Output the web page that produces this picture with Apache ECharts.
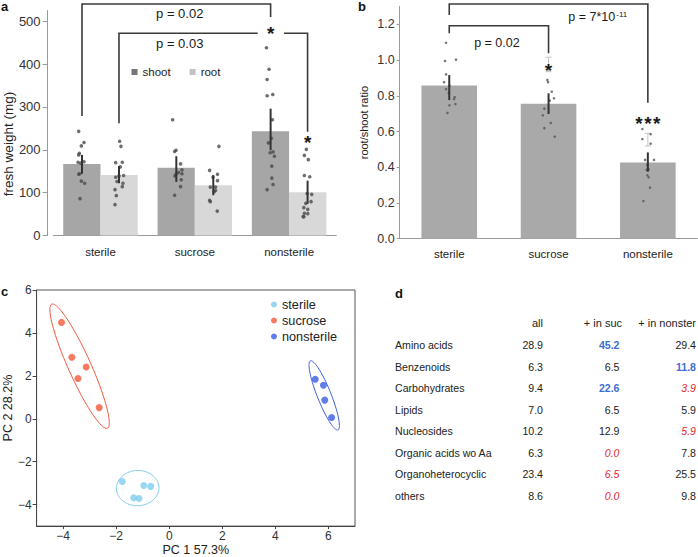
<!DOCTYPE html>
<html><head><meta charset="utf-8">
<script src="https://cdn.jsdelivr.net/npm/echarts@6/dist/echarts.min.js"></script>
<style>html,body{margin:0;padding:0;background:#fff}#c{width:698px;height:557px}</style>
</head><body><div id="c"></div>
<script>
// ================= DATA =================
const categories = ['sterile', 'sucrose', 'nonsterile'];

// panel a: fresh weight (mg)
const shootMean = [167, 158, 243];
const rootMean = [141, 117, 101];
const shootErrLow = [144, 125, 199];
const shootErrHigh = [188, 185, 296];
const rootErrLow = [122, 94, 74];
const rootErrHigh = [162, 141, 128];
const shootDots = [
  [243, 217, 209, 192, 188, 171, 172, 169, 144, 143, 127, 122, 86],
  [270, 199, 196, 167, 153, 147, 144, 143, 139, 130, 114, 94],
  [438, 388, 364, 329, 326, 270, 227, 216, 195, 193, 185, 162, 134, 119, 107]
];
const shootJitter = [
  [-0.035, 0.021, -0.007, -0.028, -0.035, -0.042, 0.021, -0.014, -0.024, -0.035, -0.007, 0.028, -0.021],
  [-0.039, -0.003, -0.018, 0.045, 0.06, 0.024, 0.06, -0.003, -0.014, 0.052, 0.045, -0.018],
  [-0.044, -0.016, -0.037, 0.023, -0.037, 0.019, 0.008, -0.023, 0.026, -0.005, 0.04, 0.013, 0.013, 0.026, -0.037]
];
const rootDots = [
  [220, 208, 171, 170, 160, 140, 139, 136, 126, 122, 114, 107, 93, 72],
  [208, 152, 143, 136, 128, 113, 113, 105, 102, 82, 79, 57],
  [201, 187, 177, 140, 137, 98, 96, 79, 75, 65, 61, 52, 51, 44, 44]
];
const rootJitter = [
  [0.007, 0.021, 0.035, -0.035, 0.014, 0.049, 0, -0.035, -0.021, 0.042, 0.035, -0.042, -0.028, -0.042],
  [0.06, -0.039, 0.045, -0.003, 0.045, 0.024, -0.031, 0.024, 0.01, -0.039, -0.031, 0.042],
  [-0.013, -0.034, 0.008, -0.034, 0.023, -0.005, 0.044, 0.037, -0.019, -0.04, 0.002, -0.034, 0.002, -0.04, -0.047]
];
const weightTicks = [0, 100, 200, 300, 400, 500];

// panel b: root/shoot ratio
const ratioMean = [0.858, 0.756, 0.427];
const ratioErrLow = [0.776, 0.698, 0.375];
const ratioErrHigh = [0.916, 0.814, 0.483];
const ratioGhostLow = [null, 0.935, 0.519];
const ratioGhostHigh = [null, 1.016, 0.590];
const ratioDots = [
  [1.097, 0.995, 1.002, 0.920, 0.876, 0.857, 0.837, 0.816, 0.792, 0.782, 0.754, 0.747, 0.704],
  [0.889, 0.876, 0.823, 0.786, 0.773, 0.728, 0.691, 0.648, 0.619, 0.571],
  [0.614, 0.585, 0.558, 0.532, 0.441, 0.441, 0.413, 0.388, 0.385, 0.355, 0.344, 0.286, 0.211]
];
const ratioJitter = [
  [-0.032, -0.042, 0.068, -0.032, -0.052, 0.002, -0.032, -0.005, 0.055, 0.048, 0.062, 0.002, -0.018],
  [-0.012, -0.005, 0.032, 0.055, 0.012, -0.042, -0.058, 0.022, -0.042, 0.062],
  [-0.055, 0.028, -0.055, 0.028, -0.028, 0.062, -0.005, 0.008, -0.012, -0.005, 0.008, 0.022, -0.045]
];
const ratioTicks = [0, 0.2, 0.4, 0.6, 0.8, 1.0, 1.2];

// panel c: PCA
const pcaSterile = [[-1.77, -2.92], [-0.96, -3.11], [-0.70, -3.15], [-1.34, -3.68], [-1.14, -3.71]];
const pcaSucrose = [[-4.06, 4.49], [-3.67, 2.87], [-3.13, 2.41], [-3.44, 1.88], [-2.64, 0.52]];
const pcaNonsterile = [[5.50, 1.84], [5.81, 1.56], [5.86, 0.87], [6.12, 0.06]];
// ellipse: centre x, centre y, major half-axis dx, dy (data units), minor/major ratio
const ellipseSterile = [-1.19, -3.23, 0.80, 0.04, 0.83];
const ellipseSucrose = [-3.38, 2.45, -1.05, 2.89, 0.166];
const ellipseNonsterile = [5.84, 1.09, -0.52, 1.61, 0.185];
const pcTicksX = [-4, -2, 0, 2, 4, 6];
const pcTicksY = [-4, -2, 0, 2, 4, 6];

// panel d: table
const tableHeaders = ['all', '+ in suc', '+ in nonster'];
const tableRows = ['Amino acids', 'Benzenoids', 'Carbohydrates', 'Lipids', 'Nucleosides',
  'Organic acids wo Aa', 'Organoheterocyclic', 'others'];
const pctAll = [28.9, 6.3, 9.4, 7.0, 10.2, 6.3, 23.4, 8.6];
const pctSuc = [45.2, 6.5, 22.6, 6.5, 12.9, 0.0, 6.5, 0.0];
const pctNonster = [29.4, 11.8, 3.9, 5.9, 5.9, 7.8, 25.5, 9.8];
const flagSuc = [1, 0, 1, 0, 0, -1, -1, -1];      // 1 enriched, -1 depleted
const flagNonster = [0, 1, -1, 0, -1, 0, 0, 0];

// ================= CHART =================
const FONT = '"Liberation Sans", Arial, Helvetica, sans-serif';
const chart = echarts.init(document.getElementById('c'), null, {renderer: 'svg', width: 698, height: 557});
const OFF = 0.196;  // bar centre offset (category units) in panel a
const COLORS = {sterile: '#7fcdee', sucrose: '#f4573a', nonsterile: '#3a5de3'};

const dotsA = [], errA = [];
categories.forEach((c, i) => {
  shootDots[i].forEach((v, k) => dotsA.push([i - OFF + shootJitter[i][k], v]));
  rootDots[i].forEach((v, k) => dotsA.push([i + OFF + rootJitter[i][k], v]));
  errA.push([i - OFF, shootErrLow[i], shootErrHigh[i]]);
  errA.push([i + OFF, rootErrLow[i], rootErrHigh[i]]);
});
const dotsB = [], errB = [], ghostB = [];
categories.forEach((c, i) => {
  ratioDots[i].forEach((v, k) => dotsB.push([i + ratioJitter[i][k], v]));
  errB.push([i, ratioErrLow[i], ratioErrHigh[i]]);
  if (ratioGhostLow[i] != null) ghostB.push([i, ratioGhostLow[i], ratioGhostHigh[i]]);
});

function errRender(color, width, cap) {
  return function (params, api) {
    const x = api.value(0);
    const p1 = api.coord([x, api.value(1)]), p2 = api.coord([x, api.value(2)]);
    const ch = [{type: 'line', shape: {x1: p1[0], y1: p1[1], x2: p2[0], y2: p2[1]}, style: {stroke: color, lineWidth: width}}];
    if (cap) {
      ch.push({type: 'line', shape: {x1: p1[0] - cap, y1: p1[1], x2: p1[0] + cap, y2: p1[1]}, style: {stroke: color, lineWidth: width}});
      ch.push({type: 'line', shape: {x1: p2[0] - cap, y1: p2[1], x2: p2[0] + cap, y2: p2[1]}, style: {stroke: color, lineWidth: width}});
    }
    return {type: 'group', children: ch};
  };
}

function annotRender(spec) {
  return function (params, api) {
    const ch = [];
    spec.lines.forEach(l => ch.push({
      type: 'polyline', shape: {points: l.map(p => api.coord(p))},
      style: {stroke: '#3a3a3a', lineWidth: 1.6, fill: null}
    }));
    spec.texts.forEach(t => {
      const p = api.coord([t.x, t.y]);
      ch.push({
        type: 'text', x: p[0], y: p[1] + (t.dy || 0),
        style: {
          text: t.text, fontSize: t.size, fontFamily: FONT, fontWeight: t.bold ? 'bold' : 'normal',
          fill: '#1a1a1a', align: t.align || 'center', verticalAlign: 'middle', rich: t.rich
        }
      });
    });
    return {type: 'group', children: ch};
  };
}

function ellipseRender(color) {
  return function (params, api) {
    const cx = api.value(0), cy = api.value(1);
    const c = api.coord([cx, cy]), e = api.coord([cx + api.value(2), cy + api.value(3)]);
    const dx = e[0] - c[0], dy = e[1] - c[1];
    const a = Math.hypot(dx, dy), b = a * api.value(4);
    const ux = dx / a, uy = dy / a, vx = -uy, vy = ux;
    const pts = [];
    for (let k = 0; k < 96; k++) {
      const t = k / 96 * Math.PI * 2;
      pts.push([c[0] + a * Math.cos(t) * ux + b * Math.sin(t) * vx, c[1] + a * Math.cos(t) * uy + b * Math.sin(t) * vy]);
    }
    return {type: 'polygon', shape: {points: pts}, style: {fill: 'none', stroke: color, lineWidth: 1}};
  };
}

const STAR = 19, STAR_DY = 4.5;
const annotA = {
  lines: [
    [[-OFF, 279], [-OFF, 540], [2 - OFF, 540], [2 - OFF, 510]],
    [[OFF, 262], [OFF, 472], [1.667, 472]],
    [[1.946, 472], [2 + OFF, 472], [2 + OFF, 242]]
  ],
  texts: [
    {x: 0.84, y: 517, text: 'p = 0.02', size: 13},
    {x: 0.84, y: 448, text: 'p = 0.03', size: 13},
    {x: 2 - OFF, y: 483, text: '*', size: STAR, bold: true, dy: STAR_DY},
    {x: 2 + OFF, y: 228, text: '*', size: STAR, bold: true, dy: STAR_DY}
  ]
};
const annotB = {
  lines: [
    [[0, 1.252], [0, 1.314], [2, 1.314], [2, 0.761]],
    [[0, 1.15], [0, 1.192], [1, 1.192], [1, 1.038]]
  ],
  texts: [
    {x: 1.199, y: 1.241, text: 'p = 7*10{sup|-11}', size: 12.5, align: 'left',
      rich: {sup: {fontSize: 8, fontFamily: FONT, verticalAlign: 'top', padding: [0, 0, 0, 1]}}},
    {x: 0.48, y: 1.094, text: 'p = 0.02', size: 12.5},
    {x: 1, y: 0.968, text: '*', size: STAR, bold: true, dy: STAR_DY},
    {x: 1.91, y: 0.668, text: '*', size: STAR, bold: true, dy: STAR_DY},
    {x: 2, y: 0.668, text: '*', size: STAR, bold: true, dy: STAR_DY},
    {x: 2.09, y: 0.668, text: '*', size: STAR, bold: true, dy: STAR_DY}
  ]
};

// table graphic
const T = {labelX: 395, headRight: [543, 622, 696], valRight: [543, 619.5, 696], headY: 323, rowY: 345, step: 21.55};
const graphics = [];
const letter = (txt, x, y) => graphics.push({type: 'text', left: x, top: y, style: {text: txt, fontSize: 13, fontWeight: 'bold', fontFamily: FONT, fill: '#111'}});
letter('a', 1, 0); letter('b', 358, -0.5); letter('c', 1, 284.5); letter('d', 395, 287);
tableHeaders.forEach((h, j) => graphics.push({type: 'text', x: T.headRight[j], y: T.headY,
  style: {text: h, fontSize: 11, fontFamily: FONT, fill: '#222', align: 'right', verticalAlign: 'middle'}}));
const cellStyle = f => f === 1 ? {fill: '#3d6fd2', fontWeight: 'bold', fontStyle: 'normal'}
  : f === -1 ? {fill: '#e8262b', fontWeight: 'normal', fontStyle: 'italic'} : {fill: '#222', fontWeight: 'normal', fontStyle: 'normal'};
tableRows.forEach((r, i) => {
  const y = T.rowY + i * T.step;
  graphics.push({type: 'text', x: T.labelX, y: y, style: {text: r, fontSize: 10.6, fontFamily: FONT, fill: '#222', align: 'left', verticalAlign: 'middle'}});
  [[pctAll[i], 0], [pctSuc[i], flagSuc[i]], [pctNonster[i], flagNonster[i]]].forEach((cell, j) => {
    graphics.push({type: 'text', x: T.valRight[j], y: y,
      style: Object.assign({text: cell[0].toFixed(1), fontSize: 10.6, fontFamily: FONT, align: 'right', verticalAlign: 'middle'}, cellStyle(cell[1]))});
  });
});

const minus = v => String(v).replace('-', '\u2212');
const grayAxis = '#9a9a9a';

const option = {
  animation: false,
  backgroundColor: '#fff',
  textStyle: {fontFamily: FONT},
  grid: [
    {left: 49.75, top: 10.5, width: 286.5, height: 225, show: false},
    {left: 399.6, top: 6.5, width: 297.9, height: 232.2, show: false},
    {left: 33.5, top: 290, width: 321.5, height: 238.5, show: true, borderColor: '#555', borderWidth: 1}
  ],
  xAxis: [
    {type: 'category', gridIndex: 0, data: categories,
      axisLine: {lineStyle: {color: grayAxis}}, axisTick: {length: 4, lineStyle: {color: grayAxis}},
      axisLabel: {fontSize: 11.5, color: '#222', margin: 10}},
    {type: 'value', gridIndex: 0, min: -0.5, max: 2.5, show: false},
    {type: 'category', gridIndex: 1, data: categories,
      axisLine: {lineStyle: {color: grayAxis}}, axisTick: {length: 4, lineStyle: {color: grayAxis}},
      axisLabel: {fontSize: 11.5, color: '#222', margin: 9}},
    {type: 'value', gridIndex: 1, min: -0.5, max: 2.5, show: false},
    {type: 'value', gridIndex: 2, min: -5, max: 7, splitLine: {show: false},
      axisLine: {onZero: false, lineStyle: {color: '#444'}},
      axisTick: {show: true, length: 3, customValues: pcTicksX, lineStyle: {color: '#444'}},
      axisLabel: {customValues: pcTicksX, formatter: minus, fontSize: 12, color: '#333', margin: 4},
      name: 'PC 1 57.3%', nameLocation: 'middle', nameGap: 16.5, nameTextStyle: {fontSize: 12.5, color: '#222'}}
  ],
  yAxis: [
    {type: 'value', gridIndex: 0, min: 0, max: 525, offset: 5.75, splitLine: {show: false},
      axisLine: {show: true, onZero: false, lineStyle: {color: grayAxis}},
      axisTick: {show: true, length: 5, customValues: weightTicks, lineStyle: {color: grayAxis}},
      axisLabel: {customValues: weightTicks, fontSize: 13, color: '#333', margin: 7},
      name: 'fresh weight (mg)', nameLocation: 'middle', nameGap: 30,
      nameTextStyle: {fontSize: 13.5, color: '#222', padding: [0, 42, 0, 0]}},
    {type: 'value', gridIndex: 1, min: 0, max: 1.3, splitLine: {show: false},
      axisLine: {show: true, onZero: false, lineStyle: {color: grayAxis}},
      axisTick: {show: true, length: 3, customValues: ratioTicks, lineStyle: {color: grayAxis}},
      axisLabel: {customValues: ratioTicks, formatter: v => v.toFixed(1), fontSize: 12.5, color: '#333', margin: 5},
      name: 'root/shoot ratio', nameLocation: 'middle', nameGap: 30, nameTextStyle: {fontSize: 11, color: '#222'}},
    {type: 'value', gridIndex: 2, min: -5, max: 6, splitLine: {show: false},
      axisLine: {onZero: false, lineStyle: {color: '#444'}},
      axisTick: {show: true, length: 4, customValues: pcTicksY, lineStyle: {color: '#444'}},
      axisLabel: {customValues: pcTicksY, formatter: minus, fontSize: 12, color: '#333', margin: 5},
      name: 'PC 2 28.2%', nameLocation: 'middle', nameGap: 21.5, nameTextStyle: {fontSize: 12.5, color: '#222'}}
  ],
  legend: [
    {data: [{name: 'shoot', itemStyle: {color: '#757575'}}, {name: 'root', itemStyle: {color: '#c2c2c2'}}],
      left: 131.5, top: 66, padding: 0, icon: 'rect', itemWidth: 6, itemHeight: 6, itemGap: 19,
      selectedMode: false, textStyle: {fontSize: 11.5, color: '#222'}},
    {data: ['sterile', 'sucrose', 'nonsterile'], orient: 'vertical', left: 271, top: 298, padding: 0,
      icon: 'circle', itemWidth: 6, itemHeight: 6, itemGap: 3, selectedMode: false,
      textStyle: {fontSize: 12.7, color: '#222'}}
  ],
  graphic: graphics,
  series: [
    {name: 'shoot', type: 'bar', xAxisIndex: 0, yAxisIndex: 0, data: shootMean, barGap: '0%', barCategoryGap: '21%',
      itemStyle: {color: '#a6a6a6'}},
    {name: 'root', type: 'bar', xAxisIndex: 0, yAxisIndex: 0, data: rootMean, itemStyle: {color: '#d8d8d8'}},
    {type: 'scatter', xAxisIndex: 1, yAxisIndex: 0, data: dotsA, symbolSize: 3.6, itemStyle: {color: '#4a4a4a'}, z: 3},
    {type: 'custom', xAxisIndex: 1, yAxisIndex: 0, data: errA, renderItem: errRender('#333', 2, 0), z: 4},
    {type: 'custom', xAxisIndex: 1, yAxisIndex: 0, data: [[0, 0]], clip: false, renderItem: annotRender(annotA), z: 5},

    {name: 'ratio', type: 'bar', xAxisIndex: 2, yAxisIndex: 1, data: ratioMean, barCategoryGap: '44%',
      itemStyle: {color: '#a9a9a9'}},
    {type: 'custom', xAxisIndex: 3, yAxisIndex: 1, data: ghostB, renderItem: errRender('#c4c4c4', 1, 3), z: 3},
    {type: 'scatter', xAxisIndex: 3, yAxisIndex: 1, data: dotsB, symbolSize: 2.6, itemStyle: {color: '#555'}, z: 3},
    {type: 'custom', xAxisIndex: 3, yAxisIndex: 1, data: errB, renderItem: errRender('#333', 2, 0), z: 4},
    {type: 'custom', xAxisIndex: 3, yAxisIndex: 1, data: [[0, 0]], clip: false, renderItem: annotRender(annotB), z: 5},

    {type: 'custom', xAxisIndex: 4, yAxisIndex: 2, data: [ellipseSterile], renderItem: ellipseRender(COLORS.sterile)},
    {type: 'custom', xAxisIndex: 4, yAxisIndex: 2, data: [ellipseSucrose], renderItem: ellipseRender(COLORS.sucrose)},
    {type: 'custom', xAxisIndex: 4, yAxisIndex: 2, data: [ellipseNonsterile], renderItem: ellipseRender(COLORS.nonsterile)},
    {name: 'sterile', type: 'scatter', xAxisIndex: 4, yAxisIndex: 2, data: pcaSterile, symbolSize: 7, itemStyle: {color: COLORS.sterile}},
    {name: 'sucrose', type: 'scatter', xAxisIndex: 4, yAxisIndex: 2, data: pcaSucrose, symbolSize: 7, itemStyle: {color: COLORS.sucrose}},
    {name: 'nonsterile', type: 'scatter', xAxisIndex: 4, yAxisIndex: 2, data: pcaNonsterile, symbolSize: 7, itemStyle: {color: COLORS.nonsterile}}
  ]
};
chart.setOption(option);
</script>
</body></html>
